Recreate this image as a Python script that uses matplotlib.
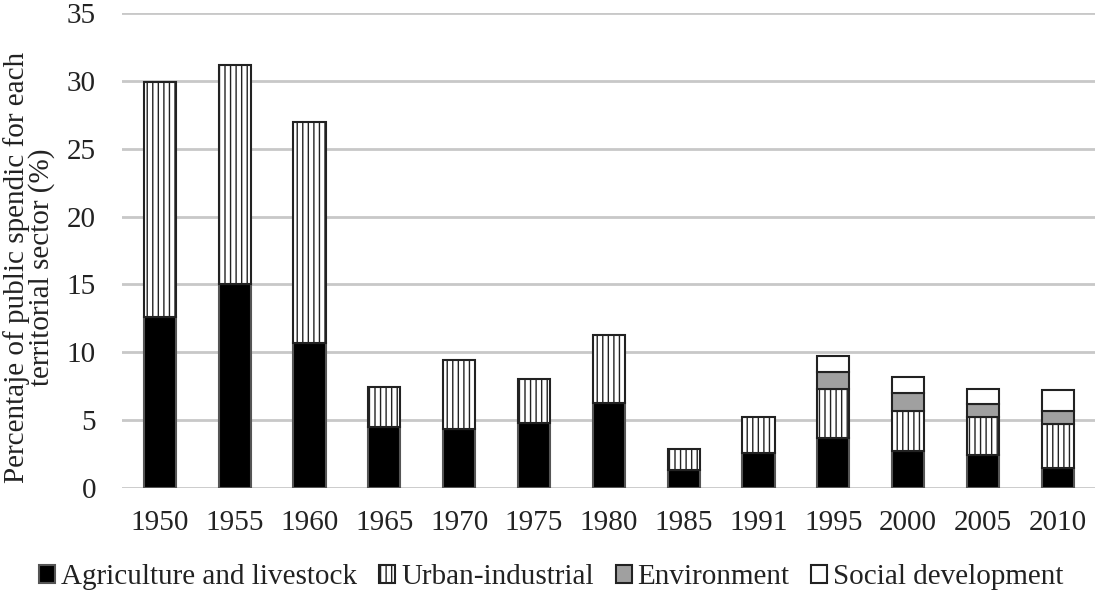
import matplotlib.pyplot as plt
import numpy as np

years = ['1950', '1955', '1960', '1965', '1970', '1975', '1980', '1985',
         '1991', '1995', '2000', '2005', '2010']
agriculture = [12.6, 15.0, 10.7, 4.5, 4.35, 4.8, 6.25, 1.35, 2.6, 3.7, 2.75, 2.45, 1.5]
urban = [17.3, 16.2, 16.3, 2.95, 5.05, 3.25, 5.05, 1.5, 2.6, 3.6, 2.9, 2.8, 3.2]
environment = [0, 0, 0, 0, 0, 0, 0, 0, 0, 1.25, 1.35, 0.95, 0.95]
social = [0, 0, 0, 0, 0, 0, 0, 0, 0, 1.2, 1.2, 1.1, 1.55]

plt.rcParams['font.family'] = 'Liberation Serif'
plt.rcParams['hatch.linewidth'] = 1.0

fig, ax = plt.subplots(figsize=(11.03, 5.93), dpi=100)
fig.subplots_adjust(left=0.111, right=0.993, top=0.978, bottom=0.177)

x = np.arange(len(years))
w = 0.43
edge = '#222222'

b1 = ax.bar(x, agriculture, w, color='black', edgecolor='#555555', linewidth=1.5,
            label='Agriculture and livestock', zorder=3)
bottom = np.array(agriculture)
b2 = ax.bar(x, urban, w, bottom=bottom, color='white', edgecolor=edge, hatch='|||',
            linewidth=1.5, label='Urban-industrial', zorder=3)
bottom = bottom + np.array(urban)
env_mask = np.array(environment) > 0
b3 = ax.bar(x[env_mask], np.array(environment)[env_mask], w, bottom=bottom[env_mask],
            color='#a0a0a0', edgecolor=edge, linewidth=1.5, label='Environment', zorder=3)
bottom = bottom + np.array(environment)
soc_mask = np.array(social) > 0
b4 = ax.bar(x[soc_mask], np.array(social)[soc_mask], w, bottom=bottom[soc_mask],
            color='white', edgecolor=edge, linewidth=1.5, label='Social development', zorder=3)

ax.set_xlim(-0.5, len(years) - 0.5)
ax.set_ylim(0, 35)
ax.set_yticks(range(0, 36, 5))
ax.set_xticks(x)
ax.set_xticklabels(years)
ax.tick_params(axis='both', length=0, labelsize=21, colors='#222222')
ax.tick_params(axis='x', pad=16)
ax.tick_params(axis='y', pad=19)
ax.grid(axis='y', color='#c8c8c8', linewidth=2, zorder=0)
for s in ax.spines.values():
    s.set_visible(False)

ax.set_ylabel('Percentaje of public spendic for each\nterritorial sector (%)',
              fontsize=21, color='#222222', linespacing=0.9)
ax.yaxis.set_label_coords(-0.069, 0.465)

leg = fig.legend(handles=[b1, b2, b3, b4], loc='lower center', ncol=4,
                 bbox_to_anchor=(0.5, -0.04), frameon=False, fontsize=21,
                 handlelength=0.55, handleheight=0.55, handletextpad=0.2,
                 columnspacing=0.75)
for t in leg.get_texts():
    t.set_color('#222222')

plt.savefig('out.png', dpi=100)
